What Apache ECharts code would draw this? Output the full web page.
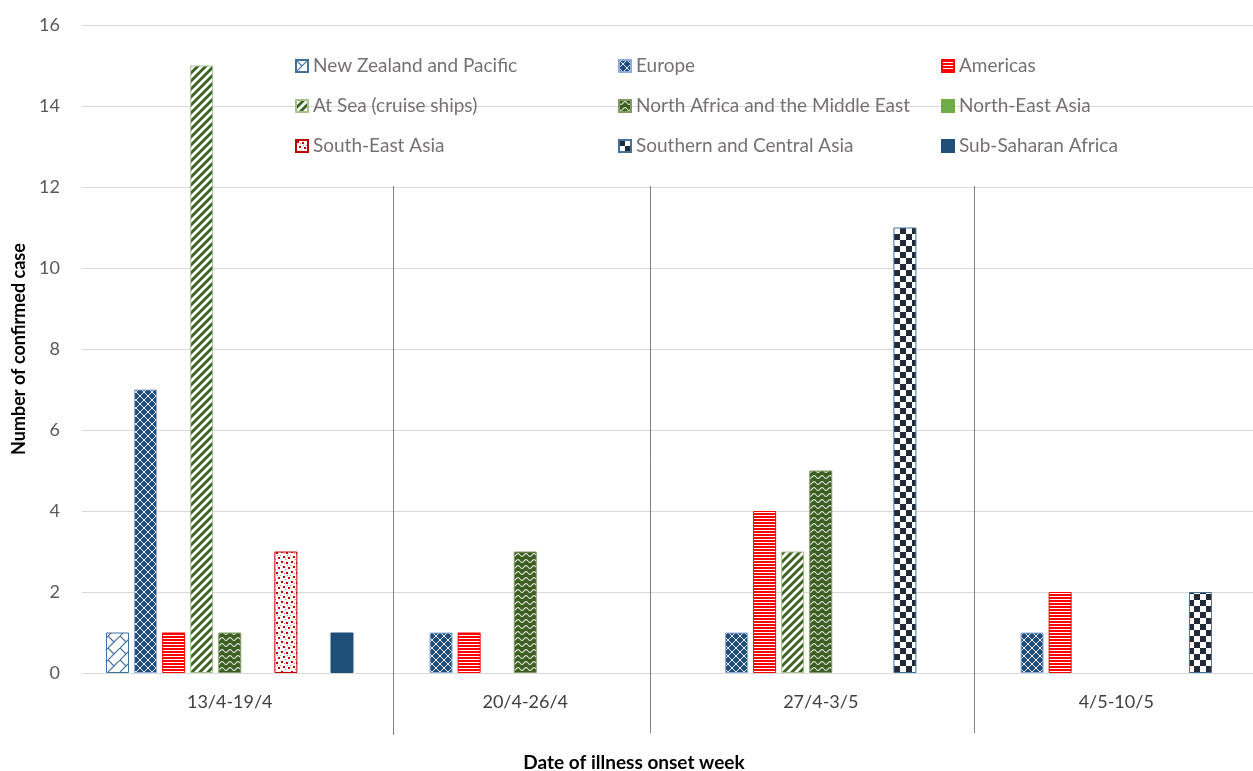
<!DOCTYPE html>
<html>
<head>
<meta charset="utf-8">
<script src="https://cdn.jsdelivr.net/npm/echarts@6/dist/echarts.min.js"></script>
<style>html,body{margin:0;padding:0;background:#fff;overflow:hidden;}#c{width:1253px;height:771px;}</style>
</head>
<body>
<div id="c"></div>
<script>
const categories = ['13/4-19/4', '20/4-26/4', '27/4-3/5', '4/5-10/5'];
const seriesNames = ['New Zealand and Pacific', 'Europe', 'Americas', 'At Sea (cruise ships)', 'North Africa and the Middle East', 'North-East Asia', 'South-East Asia', 'Southern and Central Asia', 'Sub-Saharan Africa'];
const nzPacific = [1, null, null, null];
const europe = [7, 1, 1, 1];
const americas = [1, 1, 4, 2];
const atSea = [15, null, 3, null];
const northAfricaME = [1, 3, 5, null];
const northEastAsia = [null, null, null, null];
const southEastAsia = [3, null, null, null];
const southCentralAsia = [null, null, 11, 2];
const subSaharanAfrica = [1, null, null, null];
const yTicks = [0, 2, 4, 6, 8, 10, 12, 14, 16];

function mk(w, h, draw) {
  const c = document.createElement('canvas');
  c.width = w; c.height = h;
  const g = c.getContext('2d');
  draw(g, w, h);
  return { image: c, repeat: 'repeat' };
}
const pNZ = mk(12, 12, (g, w, h) => {
  g.fillStyle = '#fff'; g.fillRect(0, 0, w, h);
  g.strokeStyle = '#41719c'; g.lineWidth = 1.2;
  g.beginPath(); g.moveTo(0, 12); g.lineTo(12, 0); g.stroke();
  g.beginPath(); g.moveTo(0, 0); g.lineTo(6, 6); g.stroke();
});
const pEU = mk(8, 8, (g, w, h) => {
  g.fillStyle = '#1f4e79'; g.fillRect(0, 0, w, h);
  g.fillStyle = 'rgba(255,255,255,0.9)';
  for (let i = 0; i < 8; i++) { g.fillRect(i, i, 1, 1); g.fillRect(7 - i, i, 1, 1); }
});
const pAM = mk(4, 3, (g, w, h) => {
  g.fillStyle = '#fff'; g.fillRect(0, 0, w, h);
  g.fillStyle = '#ff0000'; g.fillRect(0, 0, w, 2);
});
const pSEA_ = mk(8, 8, (g, w, h) => {
  g.fillStyle = '#fff'; g.fillRect(0, 0, w, h);
  g.strokeStyle = '#3a6321'; g.lineWidth = 2.8;
  for (const o of [-8, 0, 8]) { g.beginPath(); g.moveTo(o - 1, 9); g.lineTo(o + 9, -1); g.stroke(); }
});
const pNA = mk(8, 6, (g, w, h) => {
  g.fillStyle = '#3b5e21'; g.fillRect(0, 0, w, h);
  g.strokeStyle = 'rgba(255,255,255,0.85)'; g.lineWidth = 1.1;
  g.beginPath();
  for (let x = 0; x <= 8; x += 0.5) { const y = 3 + 1.4 * Math.sin(2 * Math.PI * x / 8); if (x === 0) g.moveTo(x, y); else g.lineTo(x, y); }
  g.stroke();
});
const pSE = mk(10, 10, (g, w, h) => {
  g.fillStyle = '#fff'; g.fillRect(0, 0, w, h);
  g.fillStyle = '#c00000';
  g.fillRect(1, 1, 2, 2); g.fillRect(6, 2, 2, 2); g.fillRect(3, 6, 2, 2); g.fillRect(8, 7, 2, 2);
  g.fillStyle = 'rgba(192,0,0,0.5)';
  g.fillRect(4, 3, 1, 1); g.fillRect(0, 5, 1, 1); g.fillRect(7, 5, 1, 1); g.fillRect(5, 9, 1, 1);
});
const pSC = mk(12, 12, (g, w, h) => {
  g.fillStyle = '#fff'; g.fillRect(0, 0, w, h);
  g.fillStyle = '#222a35'; g.fillRect(0, 0, 6, 6); g.fillRect(6, 6, 6, 6);
});

const dataList = [nzPacific, europe, americas, atSea, northAfricaME, northEastAsia, southEastAsia, southCentralAsia, subSaharanAfrica];
const fills = [pNZ, pEU, pAM, pSEA_, pNA, '#70ad47', pSE, pSC, '#1f4e79'];
const borders = ['#41719c', '#8faadc', '#ff0000', '#a9c08f', '#7f9a65', '#70ad47', '#c00000', '#41719c', '#1f4e79'];

const series = seriesNames.map((n, i) => ({
  name: n, type: 'bar', data: dataList[i],
  barWidth: 23, barGap: '22%',
  itemStyle: { color: fills[i], borderColor: borders[i], borderWidth: 1 }
}));

const chart = echarts.init(document.getElementById('c'));
chart.setOption({
  animation: false,
  backgroundColor: '#fff',
  textStyle: { fontFamily: 'Lato' },
  grid: { left: 82, top: 25, width: 1182, bottom: 98, outerBoundsMode: 'none', containLabel: false },
  legend: {
    left: 290, top: 51, width: 980,
    itemWidth: 12, itemHeight: 12, itemGap: 20,
    icon: 'rect',
    textStyle: { fontFamily: 'Lato', fontSize: 19, color: '#767171', width: 285, lineHeight: 20, padding: [0, 0, 0, 0] },
    data: seriesNames
  },
  xAxis: {
    type: 'category', data: categories,
    axisTick: { show: false },
    axisLine: { lineStyle: { color: '#d9d9d9' } },
    axisLabel: { fontSize: 18, color: '#404040', margin: 20, fontFamily: 'Lato' },
    name: 'Date of illness onset week', nameLocation: 'middle', nameGap: 80,
    nameTextStyle: { fontSize: 19, fontWeight: 'bold', color: '#000', fontFamily: 'Lato', padding: [0, 78, 0, 0] }
  },
  yAxis: {
    type: 'value', min: yTicks[0], max: yTicks[yTicks.length - 1], interval: 2,
    axisLine: { show: false }, axisTick: { show: false },
    splitLine: { lineStyle: { color: '#d9d9d9' } },
    axisLabel: { fontSize: 18, color: '#595959', margin: 22, fontFamily: 'Lato' },
    name: 'Number of confirmed case', nameLocation: 'middle', nameGap: 52,
    nameTextStyle: { fontSize: 18, fontWeight: 'bold', color: '#000', fontFamily: 'Lato' }
  },
  graphic: [
    { type: 'line', shape: { x1: 393.5, y1: 186, x2: 393.5, y2: 735 }, style: { stroke: '#7f7f7f', lineWidth: 1 }, z: 100 },
    { type: 'line', shape: { x1: 650.5, y1: 186, x2: 650.5, y2: 733 }, style: { stroke: '#7f7f7f', lineWidth: 1 }, z: 100 },
    { type: 'line', shape: { x1: 974.5, y1: 186, x2: 974.5, y2: 733 }, style: { stroke: '#7f7f7f', lineWidth: 1 }, z: 100 }
  ],
  series: series
});
</script>
</body>
</html>
